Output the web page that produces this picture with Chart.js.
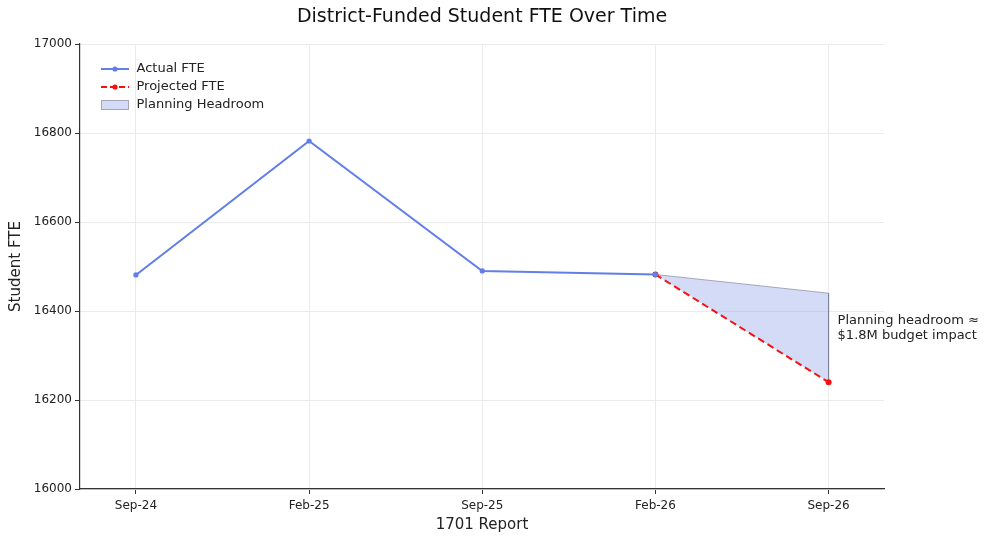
<!DOCTYPE html>
<html>
<head>
<meta charset="utf-8">
<script src="https://cdn.jsdelivr.net/npm/chart.js@4/dist/chart.umd.min.js"></script>
<style>
  html, body { margin: 0; padding: 0; background: #fff; }
  #wrap { width: 984px; height: 537px; }
</style>
</head>
<body>
<div id="wrap"><canvas id="chart"></canvas></div>
<script>
const reports = ['Sep-24', 'Feb-25', 'Sep-25', 'Feb-26', 'Sep-26'];
const actualFte = [16481, 16782, 16490, 16482];
const projectedFte = [16482, 16240];     // Feb-26 -> Sep-26
const headroomTop = [16482, 16440];      // planning baseline
const yTicks = [16000, 16200, 16400, 16600, 16800, 17000];
const chartTitle = 'District-Funded Student FTE Over Time';
const noteLines = ['Planning headroom \u2248', '$1.8M budget impact'];

const FONT = '"DejaVu Sans", Verdana, sans-serif';
const BLUE = '#627ee8';
const RED = '#f71010';
const FILL = 'rgba(110,135,230,0.3)';
const EDGE = 'rgba(120,120,140,0.6)';

// x positions are report indexes
const pts = (vals, start) => vals.map((v, i) => ({ x: start + i, y: v }));

// little legend glyphs (line + dot, dashed line + dot, filled patch)
function glyph(kind) {
    const c = document.createElement('canvas');
    c.width = 28; c.height = 12;
    const g = c.getContext('2d');
    if (kind === 'patch') {
        g.fillStyle = FILL;
        g.fillRect(0.5, 1.5, 27, 9);
        g.strokeStyle = EDGE;
        g.lineWidth = 1;
        g.strokeRect(0.5, 1.5, 27, 9);
        return c;
    }
    g.strokeStyle = kind === 'actual' ? BLUE : RED;
    g.fillStyle = g.strokeStyle;
    g.lineWidth = 2;
    if (kind === 'proj') g.setLineDash([6, 3]);
    g.beginPath(); g.moveTo(0, 6); g.lineTo(28, 6); g.stroke();
    g.beginPath(); g.arc(14, 6, 2.6, 0, Math.PI * 2); g.fill();
    return c;
}
const glyphs = [glyph('actual'), glyph('proj'), glyph('patch')];

// legend sits inside the plot, a bit in from the corner
const legendNudge = {
    id: 'legendNudge',
    afterLayout(chart) {
        const lg = chart.legend, area = chart.chartArea;
        const h = lg.bottom - lg.top;
        lg.left = area.left + 15;
        lg.top = area.top + 13.5;
        lg.bottom = lg.top + h;
    }
};

// title centred over the plot, plus the headroom note
const annotate = {
    id: 'annotate',
    afterDatasetsDraw(chart) {
        const { ctx, chartArea: area, scales: { x, y } } = chart;
        ctx.save();
        ctx.fillStyle = '#111';
        ctx.textAlign = 'center';
        ctx.textBaseline = 'middle';
        ctx.font = '19px ' + FONT;
        ctx.fillText(chartTitle, (area.left + area.right) / 2, 17);

        const px = x.getPixelForValue(reports.length - 1) + 9;
        const mid = y.getPixelForValue(16362);
        ctx.font = '13px ' + FONT;
        ctx.fillStyle = '#222';
        ctx.textAlign = 'left';
        ctx.fillText(noteLines[0], px, mid - 7);
        ctx.fillText(noteLines[1], px, mid + 8);
        ctx.restore();
    }
};

const ctx = document.getElementById('chart').getContext('2d');

new Chart(ctx, {
    type: 'line',
    data: {
        datasets: [{
            label: 'Actual FTE',
            data: pts(actualFte, 0),
            borderColor: BLUE,
            backgroundColor: BLUE,
            borderWidth: 2,
            pointRadius: 2.6,
            pointBorderWidth: 0,
            tension: 0
        }, {
            label: 'Projected FTE',
            data: pts(projectedFte, 3),
            borderColor: RED,
            backgroundColor: RED,
            borderWidth: 2,
            borderDash: [7, 4],
            pointRadius: 3,
            pointBorderWidth: 0,
            tension: 0
        }, {
            label: 'Planning Headroom',
            data: pts(headroomTop, 3),
            borderColor: EDGE,
            backgroundColor: FILL,
            borderWidth: 1,
            pointRadius: 0,
            fill: '-1',
            tension: 0
        }, {
            label: 'edge',
            data: [{ x: 4, y: headroomTop[1] }, { x: 4, y: projectedFte[1] }],
            borderColor: EDGE,
            borderWidth: 1,
            pointRadius: 0,
            fill: false
        }]
    },
    options: {
        responsive: true,
        maintainAspectRatio: false,
        animation: false,
        layout: { padding: { right: 100, left: 0, bottom: 0, top: 44 } },
        plugins: {
            title: { display: false },
            legend: {
                position: 'chartArea',
                align: 'start',
                labels: {
                    usePointStyle: true,
                    pointStyleWidth: 30,
                    padding: 5,
                    color: '#222',
                    font: { family: FONT, size: 13 },
                    filter: item => item.datasetIndex < 3,
                    generateLabels(chart) {
                        const items = Chart.defaults.plugins.legend.labels.generateLabels(chart);
                        items.forEach(it => { if (it.datasetIndex < 3) it.pointStyle = glyphs[it.datasetIndex]; });
                        return items;
                    }
                }
            },
            tooltip: { enabled: false }
        },
        scales: {
            x: {
                type: 'linear',
                min: -0.323,
                max: 4.32,
                afterBuildTicks(scale) { scale.ticks = reports.map((_, i) => ({ value: i })); },
                afterFit(scale) { scale.height = 48; },
                ticks: {
                    callback: v => reports[v],
                    color: '#222',
                    padding: 5,
                    maxRotation: 0,
                    font: { family: FONT, size: 12 }
                },
                grid: { color: '#ebebeb', tickLength: 5, tickColor: '#333' },
                border: { color: '#333', width: 1.2 },
                title: {
                    display: true,
                    text: '1701 Report',
                    color: '#222',
                    font: { family: FONT, size: 15 },
                    padding: { top: 2, bottom: 3 }
                }
            },
            y: {
                min: yTicks[0],
                max: yTicks[yTicks.length - 1],
                afterBuildTicks(scale) { scale.ticks = yTicks.map(v => ({ value: v })); },
                afterFit(scale) { scale.width = 80; },
                ticks: {
                    callback: v => String(v),
                    color: '#222',
                    padding: 3,
                    font: { family: FONT, size: 12 }
                },
                grid: { color: '#ebebeb', tickLength: 5, tickColor: '#333' },
                border: { color: '#333', width: 1.2 },
                title: {
                    display: true,
                    text: 'Student FTE',
                    color: '#222',
                    font: { family: FONT, size: 15 },
                    padding: { top: 7, bottom: 0 }
                }
            }
        }
    },
    plugins: [legendNudge, annotate]
});
</script>
</body>
</html>
